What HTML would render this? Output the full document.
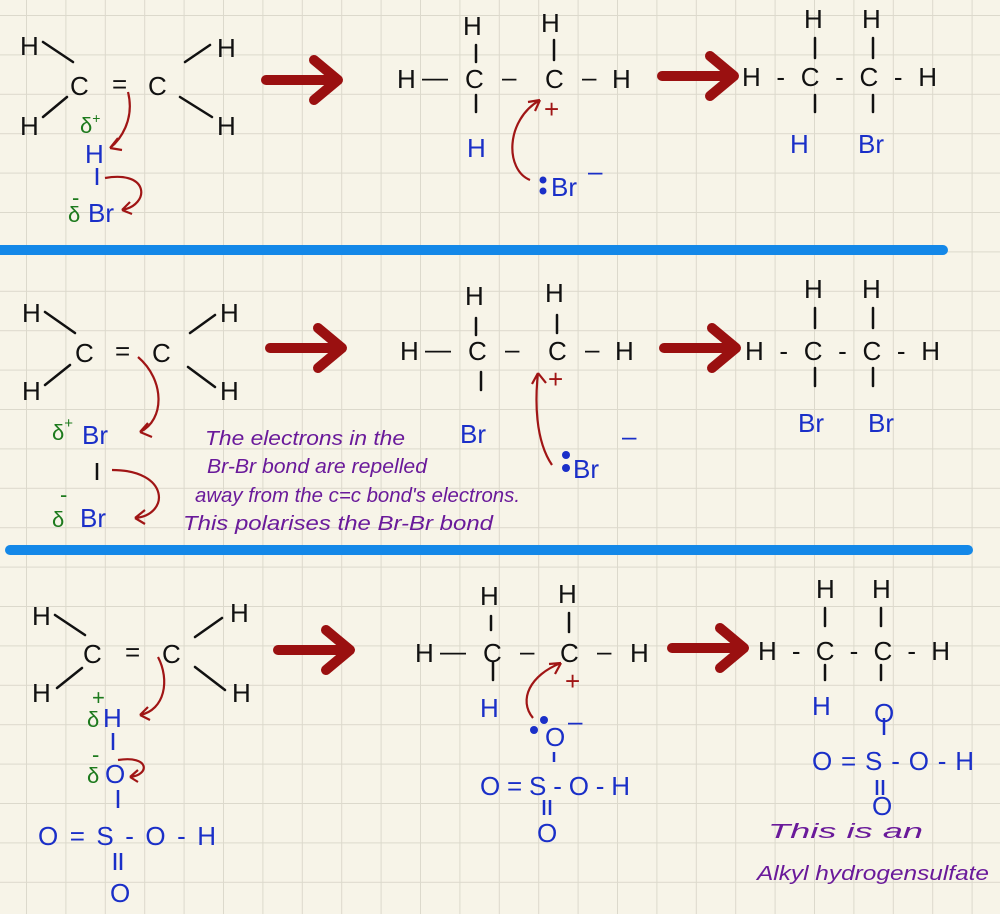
<!DOCTYPE html>
<html><head><meta charset="utf-8"><style>
html,body{margin:0;padding:0;background:#f7f4e8;}
svg{display:block;}
text{font-family:"Liberation Sans",sans-serif;}
.k{fill:#111;font-size:26px;}
.b{fill:#1a2fc8;font-size:26px;}
.g{fill:#1d7a1d;font-size:22px;}
.p{fill:#6a1a9a;font-size:20px;font-style:italic;}
.r{fill:#a01515;font-size:26px;}
</style></head><body>
<svg width="1000" height="914" viewBox="0 0 1000 914" xmlns="http://www.w3.org/2000/svg">
<defs>
<pattern id="gr" x="26" y="15" width="39.4" height="39.4" patternUnits="userSpaceOnUse">
<path d="M0 0 V39.4 M0 0 H39.4" stroke="#dcd9cc" stroke-width="2" fill="none"/>
</pattern>
<g id="bigArrow">
<path d="M0 0 H68 M48 -20 L72 0 L48 20" stroke="#9a1010" stroke-width="10" fill="none" stroke-linecap="round" stroke-linejoin="round"/>
</g>
</defs>
<rect width="1000" height="914" fill="#f7f4e8"/>
<rect width="1000" height="914" fill="url(#gr)"/>

<line x1="0" y1="250" x2="943" y2="250" stroke="#1488e8" stroke-width="10" stroke-linecap="round"/>
<line x1="10" y1="550" x2="968" y2="550" stroke="#1488e8" stroke-width="10" stroke-linecap="round"/>

<g stroke="#111" stroke-width="2.5" fill="none" stroke-linecap="round">
<path d="M43 42 L73 62 M43 117 L67 97 M185 62 L210 45 M180 97 L212 117"/>
<path d="M45 312 L75 333 M45 385 L70 365 M190 333 L215 315 M188 367 L215 387"/>
<path d="M55 615 L85 635 M57 688 L82 668 M195 637 L222 618 M195 667 L225 690"/>
<path d="M476 45 V62 M476 95 V112 M554 40 V60"/>
<path d="M476 318 V335 M481 372 V390 M557 315 V333"/>
<path d="M491 616 V630 M493 662 V680 M569 613 V632"/>
<path d="M815 38 V58 M815 95 V112 M873 38 V58 M873 95 V112"/>
<path d="M815 308 V328 M815 368 V386 M873 308 V328 M873 368 V386"/>
<path d="M825 608 V626 M825 665 V680 M881 608 V626 M881 665 V680"/>
</g>
<path d="M97 168 V185" stroke="#1a2fc8" stroke-width="2.5"/>
<path d="M884 718 V735" stroke="#1a2fc8" stroke-width="2.5"/>

<!-- Row 1 -->
<text class="k" x="20" y="55">H</text>
<text class="k" x="70" y="95" font-size="30">C</text>
<text class="k" x="112" y="93" font-size="30">=</text>
<text class="k" x="148" y="95" font-size="30">C</text>
<text class="k" x="217" y="57">H</text>
<text class="k" x="20" y="135">H</text>
<text class="k" x="217" y="135">H</text>
<text class="g" x="80" y="133">δ<tspan font-size="14" dy="-10">+</tspan></text>
<text class="b" x="85" y="163">H</text>
<text class="g" x="68" y="222">δ</text><text class="g" x="72" y="205" font-size="16">-</text>
<text class="b" x="88" y="222">Br</text>
<path d="M128 92 C135 120 120 140 110 148 M110 148 L118 138 M110 148 L122 150" stroke="#a01515" stroke-width="2.2" fill="none"/>
<path d="M105 178 C150 170 150 205 122 210 M122 210 L130 202 M122 210 L132 214" stroke="#a01515" stroke-width="2.2" fill="none"/>

<use href="#bigArrow" x="266" y="80"/>

<text class="k" x="397" y="88">H</text>
<text class="k" x="422" y="86">—</text>
<text class="k" x="465" y="88">C</text>
<text class="k" x="502" y="86">–</text>
<text class="k" x="545" y="88">C</text>
<text class="k" x="582" y="86">–</text>
<text class="k" x="612" y="88">H</text>
<text class="k" x="463" y="35">H</text>
<text class="k" x="541" y="32">H</text>
<text class="b" x="467" y="157" font-size="22">H</text>
<text class="r" x="544" y="118" font-size="24">+</text>
<path d="M530 180 C505 170 505 120 540 100 M540 100 L528 102 M540 100 L535 111" stroke="#a01515" stroke-width="2.2" fill="none"/>
<circle cx="543" cy="180" r="3.5" fill="#1a2fc8"/><circle cx="543" cy="191" r="3.5" fill="#1a2fc8"/>
<text class="b" x="551" y="196" font-size="24">Br</text>
<text class="b" x="588" y="180" font-size="20">–</text>

<use href="#bigArrow" x="662" y="76"/>
<text class="k" x="742" y="86" textLength="195" lengthAdjust="spacing">H-C-C-H</text>
<text class="k" x="804" y="28">H</text>
<text class="k" x="862" y="28">H</text>
<text class="b" x="790" y="153" font-size="24">H</text>
<text class="b" x="858" y="153" font-size="24">Br</text>

<!-- Row 2 -->
<text class="k" x="22" y="322">H</text>
<text class="k" x="75" y="362" font-size="30">C</text>
<text class="k" x="115" y="360" font-size="30">=</text>
<text class="k" x="152" y="362" font-size="30">C</text>
<text class="k" x="220" y="322">H</text>
<text class="k" x="22" y="400">H</text>
<text class="k" x="220" y="400">H</text>
<text class="g" x="52" y="440">δ<tspan font-size="15" dy="-12">+</tspan></text>
<text class="b" x="82" y="444" font-size="30">Br</text>
<text class="g" x="52" y="527" font-size="26">δ</text><text class="g" x="60" y="502" font-size="16">-</text>
<text class="b" x="80" y="527" font-size="30">Br</text>
<path d="M97 463 V480" stroke="#111" stroke-width="2.5"/>
<path d="M138 357 C165 380 165 420 140 432 M140 432 L148 423 M140 432 L152 437" stroke="#a01515" stroke-width="2.2" fill="none"/>
<path d="M112 470 C170 470 170 515 135 518 M135 518 L145 510 M135 518 L145 524" stroke="#a01515" stroke-width="2.2" fill="none"/>
<text class="p" x="205" y="445" textLength="200" lengthAdjust="spacingAndGlyphs">The electrons in the</text>
<text class="p" x="207" y="473" textLength="220" lengthAdjust="spacingAndGlyphs">Br-Br bond are repelled</text>
<text class="p" x="195" y="502" textLength="325" lengthAdjust="spacingAndGlyphs">away from the c=c bond's electrons.</text>
<text class="p" x="183" y="530" textLength="310" lengthAdjust="spacingAndGlyphs">This polarises the Br-Br bond</text>

<use href="#bigArrow" x="270" y="348"/>
<text class="k" x="400" y="360">H</text>
<text class="k" x="425" y="358">—</text>
<text class="k" x="468" y="360">C</text>
<text class="k" x="505" y="358">–</text>
<text class="k" x="548" y="360">C</text>
<text class="k" x="585" y="358">–</text>
<text class="k" x="615" y="360">H</text>
<text class="k" x="465" y="305">H</text>
<text class="k" x="545" y="302">H</text>
<text class="b" x="460" y="443" font-size="30">Br</text>
<text class="r" x="548" y="388" font-size="24">+</text>
<path d="M552 465 C535 440 535 400 538 373 M538 373 L532 384 M538 373 L546 383" stroke="#a01515" stroke-width="2.2" fill="none"/>
<circle cx="566" cy="455" r="4" fill="#1a2fc8"/><circle cx="566" cy="468" r="4" fill="#1a2fc8"/>
<text class="b" x="573" y="478" font-size="30">Br</text>
<text class="b" x="622" y="445" font-size="22">–</text>

<use href="#bigArrow" x="664" y="348"/>
<text class="k" x="745" y="360" textLength="195" lengthAdjust="spacing">H-C-C-H</text>
<text class="k" x="804" y="298">H</text>
<text class="k" x="862" y="298">H</text>
<text class="b" x="798" y="432" font-size="28">Br</text>
<text class="b" x="868" y="432" font-size="28">Br</text>

<!-- Row 3 -->
<text class="k" x="32" y="625">H</text>
<text class="k" x="83" y="663" font-size="30">C</text>
<text class="k" x="125" y="661" font-size="30">=</text>
<text class="k" x="162" y="663" font-size="30">C</text>
<text class="k" x="230" y="622">H</text>
<text class="k" x="32" y="702">H</text>
<text class="k" x="232" y="702">H</text>
<text class="g" x="87" y="727" font-size="20">δ</text><text class="g" x="92" y="705" font-size="14">+</text>
<text class="b" x="103" y="727" font-size="24">H</text>
<text class="g" x="87" y="783" font-size="20">δ</text><text class="g" x="92" y="762" font-size="14">-</text>
<text class="b" x="105" y="783" font-size="22">O</text>
<path d="M113 733 V750" stroke="#1a2fc8" stroke-width="2.5"/>
<path d="M158 657 C170 680 165 710 140 715 M140 715 L148 707 M140 715 L150 720" stroke="#a01515" stroke-width="2.2" fill="none"/>
<path d="M118 760 C150 755 150 775 130 777 M130 777 L138 770 M130 777 L138 782" stroke="#a01515" stroke-width="2.2" fill="none"/>
<path d="M118 790 V808" stroke="#1a2fc8" stroke-width="2.5"/>
<text class="b" x="38" y="845" font-size="28" textLength="178" lengthAdjust="spacing">O=S-O-H</text>
<path d="M115 853 V870 M121 853 V870" stroke="#1a2fc8" stroke-width="2.5"/>
<text class="b" x="110" y="902" font-size="24">O</text>

<use href="#bigArrow" x="278" y="650"/>
<text class="k" x="415" y="662">H</text>
<text class="k" x="440" y="660">—</text>
<text class="k" x="483" y="662">C</text>
<text class="k" x="520" y="660">–</text>
<text class="k" x="560" y="662">C</text>
<text class="k" x="597" y="660">–</text>
<text class="k" x="630" y="662">H</text>
<text class="k" x="480" y="605">H</text>
<text class="k" x="558" y="603">H</text>
<text class="b" x="480" y="717" font-size="22">H</text>
<text class="r" x="565" y="690" font-size="24">+</text>
<path d="M533 718 C518 700 530 675 561 663 M561 663 L549 664 M561 663 L555 674" stroke="#a01515" stroke-width="2.2" fill="none"/>
<circle cx="534" cy="730" r="4" fill="#1a2fc8"/><circle cx="544" cy="720" r="4" fill="#1a2fc8"/>
<text class="b" x="545" y="746" font-size="22">O</text>
<text class="b" x="568" y="730" font-size="20">–</text>
<path d="M554 752 V762" stroke="#1a2fc8" stroke-width="2.5"/>
<text class="b" x="480" y="795" font-size="24" textLength="150" lengthAdjust="spacing">O=S-O-H</text>
<path d="M544 800 V815 M550 800 V815" stroke="#1a2fc8" stroke-width="2.5"/>
<text class="b" x="537" y="842" font-size="22">O</text>

<use href="#bigArrow" x="672" y="648"/>
<text class="k" x="758" y="660" textLength="192" lengthAdjust="spacing">H-C-C-H</text>
<text class="k" x="816" y="598">H</text>
<text class="k" x="872" y="598">H</text>
<text class="b" x="812" y="715" font-size="22">H</text>
<text class="b" x="874" y="722" font-size="20">O</text>
<text class="b" x="812" y="770" font-size="24" textLength="162" lengthAdjust="spacing">O=S-O-H</text>
<path d="M877 780 V795 M883 780 V795" stroke="#1a2fc8" stroke-width="2.5"/>
<text class="b" x="872" y="815" font-size="20">O</text>
<text class="p" x="768" y="838" font-size="26" textLength="155" lengthAdjust="spacingAndGlyphs">This is  an</text>
<text class="p" x="757" y="880" font-size="28" textLength="232" lengthAdjust="spacingAndGlyphs">Alkyl hydrogensulfate</text>
</svg>
</body></html>
